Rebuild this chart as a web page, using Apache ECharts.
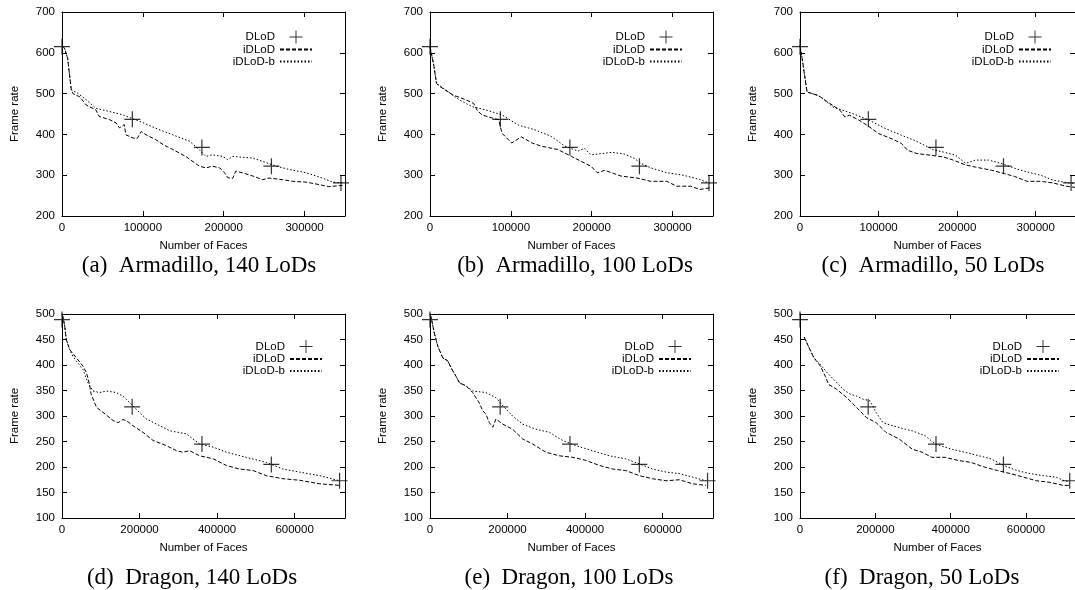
<!DOCTYPE html>
<html>
<head>
<meta charset="utf-8">
<script src="https://cdn.jsdelivr.net/npm/echarts@6/dist/echarts.min.js"></script>
<style>
  html, body { margin: 0; padding: 0; background: #fff; }
  #main { width: 1075px; height: 590px; }
  #err { position: absolute; left: 0; top: 0; font: 11px monospace; white-space: pre-wrap; color: red; }
</style>
</head>
<body>
<div id="main"></div>
<div id="err"></div>
<script>
// DLoD 采样点
var dlodArma = [[0,615],[87000,437],[173000,368],[259000,322],[345000,281]];
var dlodDragon = [[0,489],[181000,318],[361000,245],[540000,205],[716000,173]];

// (a) Armadillo 140
var a140i = [[0,617],[3000,612],[7000,586],[11500,509],[13500,500],[22000,492],[30000,472],[42000,460],[46000,444],[59000,436],[67000,428],[71000,416],[77000,424],[79000,399],[88000,391],[93000,390],[98000,407],[104000,399],[116000,387],[125000,375],[137000,363],[153000,346],[170000,322],[178000,318],[186000,322],[195000,318],[201000,306],[205000,294],[211000,292],[215000,310],[223000,306],[236000,298],[248000,289],[256000,293],[273000,289],[285000,285],[302000,283],[318000,277],[330000,272],[347000,275]];
var a140b = [[0,617],[3000,612],[7000,586],[11500,509],[15000,505],[18000,503],[30000,485],[42000,464],[59000,456],[75000,448],[96000,432],[116000,415],[137000,399],[158000,383],[170000,362],[178000,346],[186000,350],[199000,346],[205000,338],[211000,346],[236000,342],[248000,334],[265000,322],[281000,314],[302000,306],[322000,293],[335000,283],[347000,281]];
// (b) Armadillo 100
var a100i = [[0,615],[5000,566],[8000,525],[11000,519],[28000,497],[44000,485],[54000,476],[58000,460],[64000,448],[77000,440],[85000,436],[89000,403],[101000,379],[113000,394],[126000,379],[138000,371],[158000,363],[175000,346],[191000,330],[199000,322],[207000,306],[216000,312],[236000,298],[256000,293],[273000,285],[293000,285],[305000,273],[322000,273],[334000,265],[346000,269]];
var a100b = [[0,615],[5000,566],[8000,525],[11000,521],[36000,485],[52000,468],[69000,460],[89000,448],[109000,423],[130000,411],[150000,395],[167000,371],[183000,359],[191000,366],[199000,350],[208000,352],[225000,356],[240000,352],[252000,342],[262000,328],[273000,318],[293000,306],[313000,300],[333000,290],[346000,280]];
// (c) Armadillo 50
var a50i = [[0,618],[3000,582],[9000,504],[22000,496],[26000,492],[38000,476],[51000,459],[57000,443],[63000,447],[75000,435],[88000,419],[100000,402],[116000,390],[129000,378],[137000,361],[149000,353],[166000,349],[182000,345],[195000,337],[211000,325],[223000,320],[244000,312],[260000,304],[273000,297],[289000,285],[306000,285],[322000,281],[339000,273],[350000,270]];
var a50b = [[0,618],[3000,582],[9000,504],[22000,496],[26000,492],[42000,467],[67000,451],[88000,435],[108000,415],[129000,398],[145000,386],[162000,370],[170000,362],[182000,357],[198000,349],[211000,329],[223000,337],[240000,337],[256000,329],[273000,317],[289000,308],[306000,300],[322000,288],[339000,282],[350000,279]];
// (d) Dragon 140
var d140i = [[0,499],[2500,495],[7000,476],[11000,450],[20000,430],[37000,414],[54000,398],[63000,385],[71000,362],[75000,343],[80000,346],[89000,317],[106000,307],[132000,291],[145000,287],[157000,293],[166000,291],[183000,281],[209000,268],[235000,252],[269000,242],[295000,232],[312000,229],[329000,232],[355000,222],[390000,216],[424000,203],[458000,196],[493000,193],[527000,183],[570000,177],[613000,174],[665000,167],[716000,164]];
var d140b = [[0,499],[2500,495],[7000,476],[11000,450],[20000,430],[28000,417],[54000,391],[67000,365],[80000,349],[97000,346],[114000,349],[140000,346],[157000,339],[175000,326],[200000,307],[218000,294],[252000,281],[278000,271],[321000,265],[355000,245],[390000,239],[424000,229],[475000,219],[527000,209],[570000,196],[613000,190],[665000,183],[716000,173]];
// (e) Dragon 100
var d100i = [[0,499],[2500,495],[11000,463],[20000,437],[33000,414],[46000,408],[54000,395],[67000,378],[76000,365],[93000,359],[110000,346],[127000,326],[136000,310],[144000,304],[153000,287],[162000,278],[170000,294],[188000,284],[213000,274],[239000,255],[265000,245],[299000,229],[333000,222],[368000,219],[402000,213],[437000,203],[471000,196],[505000,193],[540000,183],[574000,177],[609000,173],[643000,175],[678000,167],[712000,164]];
var d100b = [[0,499],[2500,495],[11000,463],[20000,437],[33000,414],[46000,408],[54000,395],[67000,378],[76000,365],[93000,359],[110000,349],[144000,346],[170000,336],[188000,320],[213000,300],[239000,284],[273000,274],[308000,268],[342000,252],[376000,242],[419000,232],[462000,222],[505000,216],[540000,206],[574000,196],[609000,190],[643000,187],[678000,180],[712000,173]];
// (f) Dragon 50
var d50i = [[11000,455],[24000,434],[37000,414],[54000,398],[67000,378],[76000,362],[98000,352],[124000,336],[150000,317],[176000,297],[202000,287],[228000,268],[263000,255],[298000,235],[324000,229],[350000,219],[385000,219],[419000,213],[454000,209],[489000,200],[524000,193],[559000,187],[594000,180],[628000,173],[663000,170],[698000,164],[715000,164]];
var d50b = [[11000,455],[24000,434],[37000,414],[54000,401],[72000,385],[89000,372],[115000,352],[133000,343],[150000,339],[167000,333],[185000,330],[202000,307],[220000,287],[246000,281],[280000,274],[298000,271],[333000,261],[359000,245],[402000,235],[454000,226],[507000,216],[541000,203],[576000,193],[611000,187],[646000,183],[680000,180],[702000,173],[715000,171]];

var titles = ['(a)  Armadillo, 140 LoDs','(b)  Armadillo, 100 LoDs','(c)  Armadillo, 50 LoDs','(d)  Dragon, 140 LoDs','(e)  Dragon, 100 LoDs','(f)  Dragon, 50 LoDs'];

var panels = [
  {i: a140i, b: a140b, d: dlodArma},
  {i: a100i, b: a100b, d: dlodArma},
  {i: a50i, b: a50b, d: dlodArma},
  {i: d140i, b: d140b, d: dlodDragon},
  {i: d100i, b: d100b, d: dlodDragon},
  {i: d50i, b: d50b, d: dlodDragon}
];

var SANS = 'Liberation Sans';
var SERIF = 'Liberation Serif';
var plusPath = 'path://M0,7.4H16V8.6H0ZM7.4,0H8.6V16H7.4Z';
var lefts = [62, 430, 800];
var legendRight = [[762, 392, 23], [752, 383, 15]];
var titleX = [199, 575, 933, 192, 569, 922];

var grids = [], xAxes = [], yAxes = [], seriesList = [], legends = [], titleList = [];

function ls(){ return {color: '#000', width: 1}; }
function fmt(v){ return '' + v; }

for (var p = 0; p < 6; p++) {
  var row = p < 3 ? 0 : 1;
  var col = p % 3;
  var gTop = row == 0 ? 12 : 314;
  var xmax = row == 0 ? 350000 : 730000;
  var xint = row == 0 ? 100000 : 200000;
  var ymin = row == 0 ? 200 : 100;
  var ymax = row == 0 ? 700 : 500;
  var yint = row == 0 ? 100 : 50;

  grids.push({left: lefts[col], top: gTop, width: 283, height: 204});

  // 下 / 上 x轴
  xAxes.push({
    type: 'value', gridIndex: p, position: 'bottom', min: 0, max: xmax, interval: xint,
    name: 'Number of Faces', nameLocation: 'middle', nameGap: 24,
    nameTextStyle: {color: '#000', fontFamily: SANS, fontSize: 11.5},
    axisLine: {show: true, onZero: false, lineStyle: ls()},
    axisTick: {show: true, inside: true, length: 5, lineStyle: ls()},
    axisLabel: {color: '#000', fontFamily: SANS, fontSize: 11.5, margin: 6, showMaxLabel: false, formatter: fmt},
    splitLine: {show: false}
  });
  xAxes.push({
    type: 'value', gridIndex: p, position: 'top', min: 0, max: xmax, interval: xint,
    axisLine: {show: true, onZero: false, lineStyle: ls()},
    axisTick: {show: true, inside: true, length: 5, lineStyle: ls()},
    axisLabel: {show: false}, splitLine: {show: false}
  });
  // 左 / 右 y轴
  yAxes.push({
    type: 'value', gridIndex: p, position: 'left', min: ymin, max: ymax, interval: yint,
    name: 'Frame rate', nameLocation: 'middle', nameGap: 41,
    nameTextStyle: {color: '#000', fontFamily: SANS, fontSize: 11.5},
    axisLine: {show: true, onZero: false, lineStyle: ls()},
    axisTick: {show: true, inside: true, length: 5, lineStyle: ls()},
    axisLabel: {color: '#000', fontFamily: SANS, fontSize: 11.5, margin: 7, formatter: fmt},
    splitLine: {show: false}
  });
  yAxes.push({
    type: 'value', gridIndex: p, position: 'right', min: ymin, max: ymax, interval: yint,
    axisLine: {show: true, onZero: false, lineStyle: ls()},
    axisTick: {show: true, inside: true, length: 5, lineStyle: ls()},
    axisLabel: {show: false}, splitLine: {show: false}
  });

  seriesList.push({
    name: 'DLoD', type: 'scatter', xAxisIndex: p * 2, yAxisIndex: p * 2,
    symbol: plusPath, symbolSize: 16, clip: false,
    itemStyle: {color: '#000'}, data: panels[p].d, z: 5
  });
  seriesList.push({
    name: 'iDLoD', type: 'line', xAxisIndex: p * 2, yAxisIndex: p * 2,
    symbol: 'none', lineStyle: {color: '#000', width: 1, type: [4, 2]},
    itemStyle: {color: '#000'}, data: panels[p].i
  });
  seriesList.push({
    name: 'iDLoD-b', type: 'line', xAxisIndex: p * 2, yAxisIndex: p * 2,
    symbol: 'none', lineStyle: {color: '#000', width: 1, type: [1.5, 2]},
    itemStyle: {color: '#000'}, data: panels[p].b
  });

  legends.push({
    orient: 'vertical', align: 'right', right: legendRight[row][col],
    top: row == 0 ? 30.5 : 340, padding: 0, itemGap: 0,
    itemWidth: 32, itemHeight: 13, selectedMode: false,
    textStyle: {color: '#000', fontFamily: SANS, fontSize: 11.5},
    data: [
      {name: 'DLoD', icon: plusPath},
      {name: 'iDLoD', itemStyle: {opacity: 0}},
      {name: 'iDLoD-b', itemStyle: {opacity: 0}}
    ]
  });

  titleList.push({
    text: titles[p], left: titleX[p], top: row == 0 ? 254 : 566, textAlign: 'center', padding: 0,
    textStyle: {color: '#000', fontFamily: SERIF, fontSize: 23, fontWeight: 'normal'}
  });
}

try {
  var myChart = echarts.init(document.getElementById('main'));
  myChart.setOption({
    backgroundColor: '#fff',
    animation: false,
    title: titleList,
    legend: legends,
    grid: grids,
    xAxis: xAxes,
    yAxis: yAxes,
    series: seriesList
  });
} catch (e) {
  document.getElementById('err').textContent = (e && e.stack) ? e.stack.slice(0, 3000) : String(e);
}
</script>
</body>
</html>
